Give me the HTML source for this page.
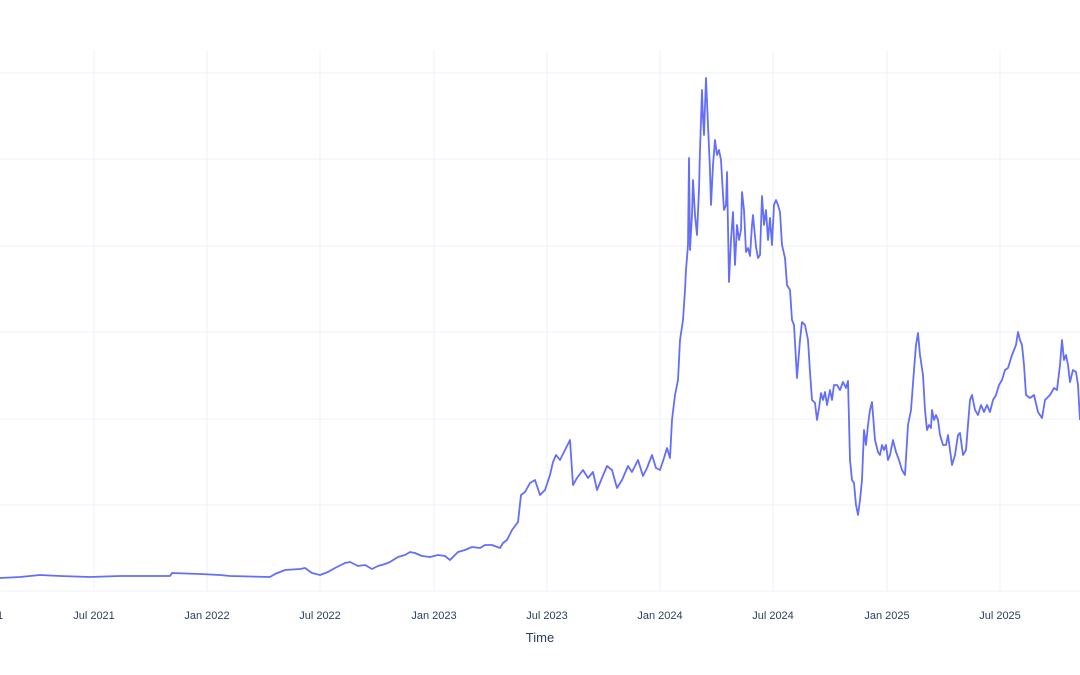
<!DOCTYPE html>
<html><head><meta charset="utf-8"><style>
body{margin:0;background:#fff;}
svg{display:block;font-family:"Liberation Sans",sans-serif;}
</style></head><body>
<svg width="1080" height="675" viewBox="0 0 1080 675">
<rect width="1080" height="675" fill="#fff"/>
<g stroke="#ebf0f8" stroke-width="1">
<line x1="0" y1="73" x2="1080" y2="73"/>
<line x1="0" y1="159" x2="1080" y2="159"/>
<line x1="0" y1="246" x2="1080" y2="246"/>
<line x1="0" y1="332" x2="1080" y2="332"/>
<line x1="0" y1="419" x2="1080" y2="419"/>
<line x1="0" y1="505" x2="1080" y2="505"/>
<line x1="0" y1="591" x2="1080" y2="591"/>
<line x1="94" y1="50" x2="94" y2="591"/>
<line x1="207" y1="50" x2="207" y2="591"/>
<line x1="320" y1="50" x2="320" y2="591"/>
<line x1="434" y1="50" x2="434" y2="591"/>
<line x1="547" y1="50" x2="547" y2="591"/>
<line x1="660" y1="50" x2="660" y2="591"/>
<line x1="773" y1="50" x2="773" y2="591"/>
<line x1="887" y1="50" x2="887" y2="591"/>
<line x1="1000" y1="50" x2="1000" y2="591"/>
</g>
<polyline fill="none" stroke="#636efa" stroke-width="1.8" stroke-linejoin="round" points="0,578 20,577 40,575 60,576 90,577 120,576 170,576 172,573 200,574 220,575 230,576 270,577 275,574 285,570 300,569 305,568 312,573 320,575 328,572 335,568 345,563 350,562 358,566 365,565 372,569 378,566 385,564 390,562 398,557 405,555 410,552 415,553 422,556 430,557 438,555 445,556 450,560 458,552 465,550 472,547 480,548 485,545 492,545 500,548 503,543 507,540 512,530 518,522 521,495 525,492 530,483 535,480 540,495 545,490 550,475 553,462 556,455 560,460 565,450 570,440 573,485 577,478 583,470 588,478 593,472 597,490 602,478 607,466 612,470 617,488 622,480 628,466 632,472 638,460 643,476 647,468 652,455 656,468 660,470 664,458 667,448 670,458 672,420 675,395 678,380 680,340 683,320 685,290 686,270 688,245 689,158 690,250 692,215 693,180 695,215 697,235 699,190 700,150 702,90 703,118 704,135 706,78 708,125 710,170 711,205 713,165 715,140 717,155 719,150 721,160 723,195 724,210 726,205 727,172 729,282 731,240 733,212 735,265 737,225 739,240 741,230 742,192 744,210 746,252 748,248 750,256 752,225 753,215 756,247 758,258 760,255 762,196 764,225 766,210 768,240 770,218 772,245 774,205 776,200 778,205 780,212 782,245 785,258 787,285 790,290 792,320 794,325 797,378 800,340 802,322 805,325 808,340 810,372 812,400 815,403 817,420 819,408 821,393 823,400 825,392 827,405 830,390 832,400 834,385 837,385 840,390 843,382 846,388 848,381 850,460 852,480 854,483 856,505 858,515 860,500 862,480 864,430 866,445 868,425 870,410 872,402 875,440 878,452 880,455 882,445 884,450 886,445 888,460 890,455 893,440 896,452 899,460 902,470 905,475 908,425 911,410 914,370 916,345 918,333 920,355 923,375 925,410 927,430 929,425 931,428 932,410 934,420 936,415 938,420 940,435 943,445 946,445 948,435 950,450 952,465 955,455 958,435 960,433 963,455 966,450 970,400 972,395 975,410 978,415 981,405 984,412 987,405 990,412 993,400 996,395 999,385 1002,380 1005,370 1008,368 1012,355 1016,345 1018,332 1020,340 1022,345 1024,365 1026,395 1030,398 1034,395 1038,412 1042,418 1045,400 1050,395 1054,388 1057,390 1060,365 1062,340 1064,360 1066,355 1068,365 1070,382 1073,370 1076,372 1078,385 1080,420"/>
<g fill="#2a3f5f" font-size="11" text-anchor="middle">
<text x="0" y="619">1</text>
<text x="94" y="619">Jul 2021</text>
<text x="207" y="619">Jan 2022</text>
<text x="320" y="619">Jul 2022</text>
<text x="434" y="619">Jan 2023</text>
<text x="547" y="619">Jul 2023</text>
<text x="660" y="619">Jan 2024</text>
<text x="773" y="619">Jul 2024</text>
<text x="887" y="619">Jan 2025</text>
<text x="1000" y="619">Jul 2025</text>
<text x="540" y="642" font-size="13">Time</text>
</g>
</svg>
</body></html>
